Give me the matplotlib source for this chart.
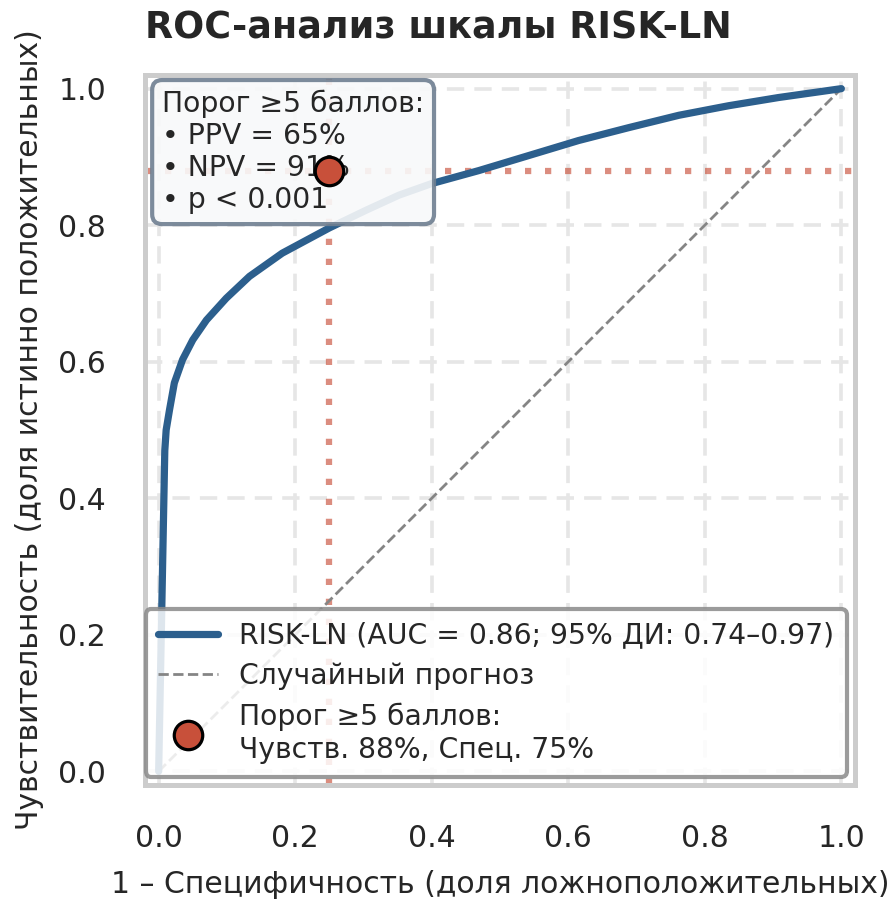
import matplotlib
matplotlib.use("Agg")
import matplotlib.pyplot as plt

plt.rcParams['font.family'] = ['DejaVu Sans']

# ROC curve points
fpr = [0.0, 0.009, 0.011, 0.016, 0.023, 0.035, 0.05, 0.07, 0.099, 0.133, 0.181,
       0.25, 0.304, 0.352, 0.40, 0.469, 0.542, 0.615, 0.689, 0.762, 0.835, 0.908, 1.0]
tpr = [0.0, 0.47, 0.50, 0.53, 0.569, 0.603, 0.632, 0.661, 0.693, 0.725, 0.759,
       0.796, 0.822, 0.844, 0.861, 0.880, 0.902, 0.924, 0.943, 0.961, 0.975, 0.987, 1.0]
diag = [0.0, 1.0]
thr_fpr = 0.25
thr_tpr = 0.88
ticks = [0.0, 0.2, 0.4, 0.6, 0.8, 1.0]

curve_label = "RISK-LN (AUC = 0.86; 95% ДИ: 0.74–0.97)"
diag_label = "Случайный прогноз"
thr_label = "Порог ≥5 баллов:\nЧувств. 88%, Спец. 75%"
box_text = "Порог ≥5 баллов:\n• PPV = 65%\n• NPV = 91%\n• p < 0.001"
title = "ROC-анализ шкалы RISK-LN"
xlabel = "1 – Специфичность (доля ложноположительных)"
ylabel = "Чувствительность (доля истинно положительных)"

blue = '#2c5f8d'
red = '#c8503a'
txt = '#262626'

fig = plt.figure(figsize=(8.93, 8.99), dpi=100)
ax = fig.add_axes([145/893, (899-785)/899, 710/893, 710/899])

ax.set_xlim(-0.02, 1.02)
ax.set_ylim(-0.02, 1.02)
ax.set_xticks(ticks)
ax.set_yticks(ticks)
ax.tick_params(labelsize=21.5, length=0, pad=28, colors=txt)

ax.grid(True, color='#e6e6e6', linewidth=2.6, linestyle=(0, (4.8, 2.8)), zorder=0)
ax.set_axisbelow(True)
for s in ax.spines.values():
    s.set_color('#cccccc')
    s.set_linewidth(3.6)

ax.axvline(thr_fpr, color=red, alpha=0.65, linewidth=4.5, linestyle=(0, (1, 2.2)), zorder=1)
ax.axhline(thr_tpr, color=red, alpha=0.65, linewidth=4.5, linestyle=(0, (1, 2.2)), zorder=1)

h_diag, = ax.plot(diag, diag, color='#858585', linestyle='--', linewidth=2.0, zorder=2)
h_curve, = ax.plot(fpr, tpr, color=blue, linewidth=5.2, solid_capstyle='round', zorder=3)
h_thr, = ax.plot([thr_fpr], [thr_tpr], 'o', markersize=20.5, markerfacecolor=red,
                 markeredgecolor='black', markeredgewidth=2.3, zorder=10, linestyle='none')

ax.text(0.024, 0.979, box_text, transform=ax.transAxes, fontsize=20.3, va='top', ha='left',
        color=txt, linespacing=1.18, zorder=6,
        bbox=dict(boxstyle='round,pad=0.35', facecolor='#f8f9fa', edgecolor='#6f7f91',
                  linewidth=3, alpha=0.9))

leg = ax.legend([h_curve, h_diag, h_thr], [curve_label, diag_label, thr_label],
                loc='lower right', fontsize=20.3, frameon=True, framealpha=0.85,
                edgecolor='#8a8a8a', fancybox=True, borderaxespad=0.3,
                handlelength=2.1, handletextpad=0.75, labelspacing=0.45, borderpad=0.45)
leg.get_frame().set_linewidth(3)
leg.set_zorder(5)
for t in leg.get_texts():
    t.set_color(txt)

ax.set_title(title, loc='left', fontsize=26.3, fontweight='bold', color=txt, pad=26)
ax.set_xlabel(xlabel, fontsize=21.5, color=txt, labelpad=12)
ax.set_ylabel(ylabel, fontsize=21.5, color=txt, labelpad=10)

fig.savefig('out.png', dpi=100)
